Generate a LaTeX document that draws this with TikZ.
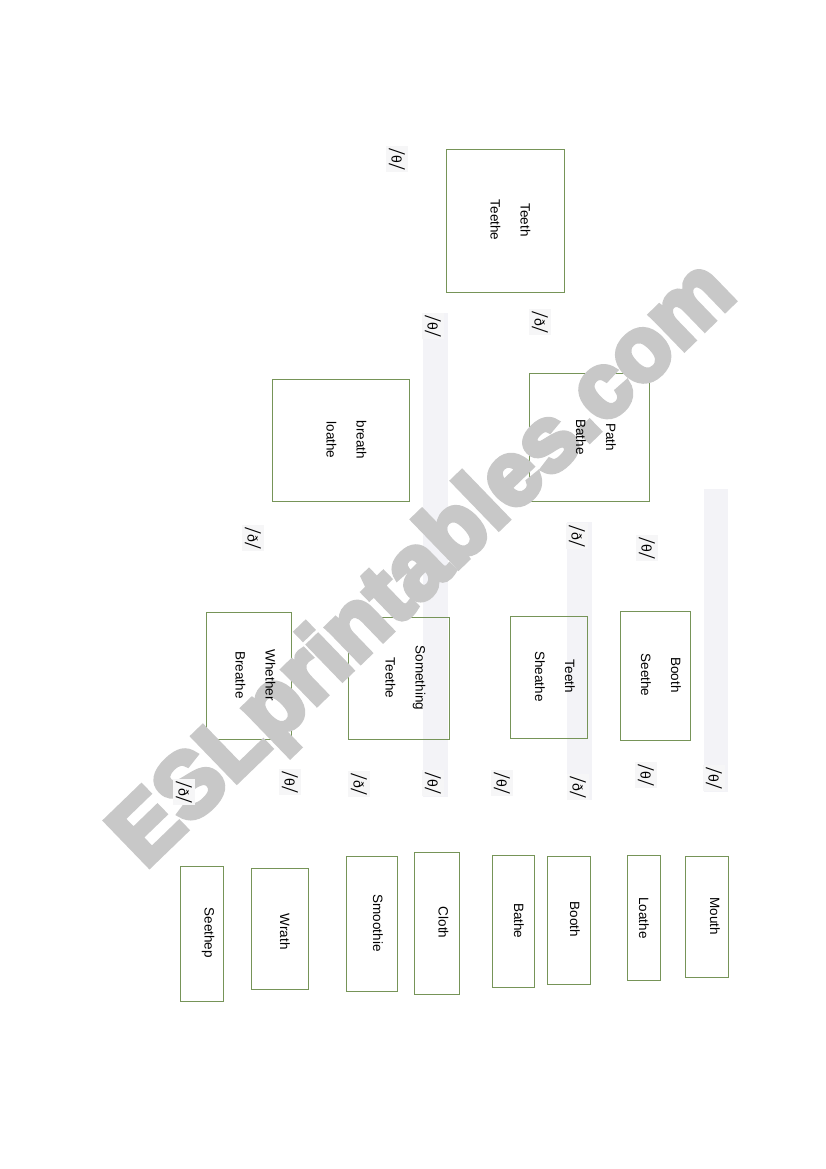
\documentclass[tikz,border=0pt]{standalone}
\usepackage{fontspec}
\setmainfont{Liberation Sans}
\newfontfamily\slashfont{Liberation Serif}
\newfontfamily\wmfont[FakeBold=6]{Liberation Sans Bold}
\definecolor{boxgreen}{RGB}{118,148,88}
\definecolor{barbg}{RGB}{243,243,247}
\definecolor{labbg}{RGB}{246,246,247}
\definecolor{wmgray}{RGB}{200,200,200}
\newcommand\phonlabel[1]{{\slashfont\fontsize{24}{24}\selectfont/}\kern0.3pt\raisebox{2.5pt}{\fontsize{14}{14}\selectfont #1}\kern0.3pt{\slashfont\fontsize{24}{24}\selectfont/}}
\begin{document}
\begin{tikzpicture}[x=1pt,y=-1pt,
  box/.style={draw=boxgreen, line width=0.9pt, inner sep=0pt},
  word/.style={rotate=-90, inner sep=0pt, align=center, font=\fontsize{13.5}{30}\selectfont},
  phon/.style={rotate=-90, inner sep=2.5pt, fill=labbg},
  wmark/.style={rotate=44, anchor=base west, inner sep=0pt, text=wmgray, font=\wmfont\fontsize{91}{91}\selectfont}]
\useasboundingbox (0,0) rectangle (826,1169);
\fill[white] (0,0) rectangle (826,1169);
% faint bars
\fill[barbg] (423,313) rectangle (448,797);
\fill[barbg] (567,522) rectangle (592,800);
\fill[barbg] (704,489) rectangle (728,792);
% boxes
\node[box, minimum width=118pt, minimum height=143pt] (b1) at (505,220.5) {};
\node[box, minimum width=137pt, minimum height=122pt] (b2) at (340.5,440) {};
\node[box, minimum width=120pt, minimum height=128pt] (b3) at (589,437) {};
\node[box, minimum width=85pt, minimum height=127pt] (b4) at (248.5,675.5) {};
\node[box, minimum width=101pt, minimum height=122pt] (b5) at (398.5,678) {};
\node[box, minimum width=77pt, minimum height=122pt] (b6) at (548.5,677) {};
\node[box, minimum width=70pt, minimum height=129pt] (b7) at (655,675.5) {};
\node[box, minimum width=43pt, minimum height=135pt] (c1) at (201.5,933.5) {};
\node[box, minimum width=57pt, minimum height=121pt] (c2) at (279.5,928.5) {};
\node[box, minimum width=51pt, minimum height=135pt] (c3) at (371.5,923.5) {};
\node[box, minimum width=45pt, minimum height=142pt] (c4) at (436.5,923) {};
\node[box, minimum width=42pt, minimum height=132pt] (c5) at (513,921) {};
\node[box, minimum width=43pt, minimum height=128pt] (c6) at (568.5,920) {};
\node[box, minimum width=33pt, minimum height=125pt] (c7) at (643.5,917.5) {};
\node[box, minimum width=43pt, minimum height=121pt] (c8) at (706.5,916.5) {};
% watermark
\node[wmark] (wm) at (145,870) {ESLprintables.com};
% words
\node[word] (w1) at (510.5,220) {Teeth\\Teethe};
\node[word] (w2) at (346.5,440) {breath\\loathe};
\node[word] (w3) at (596,437) {Path\\Bathe};
\node[word] (w4) at (255.4,675) {Whether\\Breathe};
\node[word] (w5) at (405.4,678) {Something\\Teethe};
\node[word] (w6) at (555,676.5) {Teeth\\Sheathe};
\node[word] (w7) at (661,675) {Booth\\Seethe};
\node[word] (v1) at (208,932.7) {Seethep};
\node[word] (v2) at (285,931.7) {Wrath};
\node[word] (v3) at (378,923) {Smoothie};
\node[word] (v4) at (443.5,922.5) {Cloth};
\node[word] (v5) at (519,920.8) {Bathe};
\node[word] (v6) at (575,919.5) {Booth};
\node[word] (v7) at (644,918) {Loathe};
\node[word] (v8) at (715,916) {Mouth};
% phonetic labels
\node[phon] (t1) at (397,159) {\phonlabel{θ}};
\node[phon] (t2) at (433,326) {\phonlabel{θ}};
\node[phon] (d1) at (540,322) {\phonlabel{ð}};
\node[phon] (d2) at (253,538) {\phonlabel{ð}};
\node[phon] (d3) at (577,536) {\phonlabel{ð}};
\node[phon] (t3) at (647,548) {\phonlabel{θ}};
\node[phon] (d4) at (184,792) {\phonlabel{ð}};
\node[phon] (t4) at (290,782) {\phonlabel{θ}};
\node[phon] (d5) at (359,784) {\phonlabel{ð}};
\node[phon] (t5) at (433,783) {\phonlabel{θ}};
\node[phon] (t6) at (502,783) {\phonlabel{θ}};
\node[phon] (d6) at (578,787) {\phonlabel{ð}};
\node[phon] (t7) at (646,775) {\phonlabel{θ}};
\node[phon] (t8) at (714,778) {\phonlabel{θ}};
\end{tikzpicture}
\end{document}
